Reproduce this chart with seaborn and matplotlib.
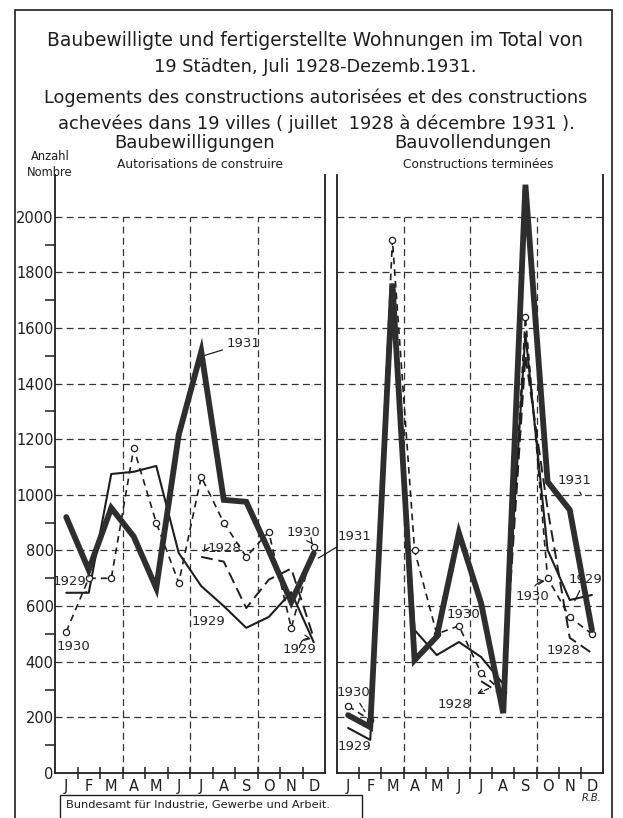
import matplotlib
matplotlib.use("Agg")
import matplotlib.pyplot as plt
import seaborn as sns
import numpy as np
import pandas as pd
from matplotlib.patches import Rectangle

sns.set_style("white")
plt.rcParams['font.family'] = ['DejaVu Sans']

# ---------------- data ----------------
months = ["J", "F", "M", "A", "M", "J", "J", "A", "S", "O", "N", "D"]
month_idx = list(range(12))

# Baubewilligungen / Autorisations de construire
permits_1928 = [np.nan] * 6 + [777, 760, 593, 695, 735, 485]
permits_1929 = [648, 648, 1075, 1083, 1104, 791, 672, 600, 522, 561, 650, 470]
permits_1930 = [508, 700, 700, 1168, 900, 684, 1065, 900, 777, 867, 522, 813]
permits_1931 = [920, 730, 953, 850, 665, 1216, 1515, 982, 975, 800, 615, 790]

# Bauvollendungen / Constructions terminées
compl_1928 = [np.nan] * 6 + [330, 280, 1500, 950, 486, 431]
compl_1929 = [162, 119, 1700, 514, 424, 471, 417, 320, 1580, 802, 622, 640]
compl_1930 = [241, 190, 1917, 800, 500, 529, 360, 290, 1640, 701, 560, 500]
compl_1931 = [208, 165, 1760, 406, 490, 863, 611, 215, 2115, 1047, 946, 514]

ytick_vals = list(range(0, 2001, 200))


def frame(values):
    return pd.DataFrame({"m": month_idx, "v": values}).dropna()


# ---------------- figure ----------------
fig = plt.figure(figsize=(6.23, 8.18), dpi=100)
fig.patch.set_facecolor("white")
axL = fig.add_axes([55 / 623, 1 - 773 / 818, 270 / 623, 598 / 818])
axR = fig.add_axes([337 / 623, 1 - 773 / 818, 266 / 623, 598 / 818])

INK = "#1e1e1e"


def style_axis(ax, show_y):
    ax.patch.set_alpha(0)
    ax.set_xlim(-0.5, 11.5)
    ax.set_ylim(0, 2150)
    ax.spines["top"].set_visible(False)
    for s in ["left", "right", "bottom"]:
        ax.spines[s].set_color(INK)
        ax.spines[s].set_linewidth(1.3)
    # dashed grid
    ax.hlines(ytick_vals[1:], -0.5, 11.5, colors="#333333", linewidth=0.9,
              linestyles=(0, (5.5, 3.5)), zorder=1)
    ax.vlines([2.5, 5.5, 8.5], 0, 2000, colors="#333333", linewidth=0.9,
              linestyles=(0, (5.5, 3.5)), zorder=1)
    # x ticks at month boundaries, labels at month centres
    ax.set_xticks(np.arange(0.5, 11.0, 1.0))
    ax.set_xticklabels([])
    ax.tick_params(axis="x", which="major", direction="inout", length=9,
                   width=1.1, color=INK, bottom=True)
    ax.set_xticks(month_idx, minor=True)
    ax.set_xticklabels(months, minor=True, fontsize=10.5, color=INK)
    ax.tick_params(axis="x", which="minor", length=0, pad=4)
    if show_y:
        ax.set_yticks(ytick_vals)
        ax.set_yticklabels([str(v) for v in ytick_vals], fontsize=10.5, color=INK)
        ax.tick_params(axis="y", which="major", length=0, pad=1, left=True)
        ax.set_yticks(list(range(100, 2000, 200)), minor=True)
        ax.tick_params(axis="y", which="minor", direction="out", length=7,
                       width=1.1, color=INK, left=True)
    else:
        ax.set_yticks([])
    ax.set_xlabel("")
    ax.set_ylabel("")


def draw_series(ax, s1928, s1929, s1930, s1931):
    sns.lineplot(data=frame(s1928), x="m", y="v", ax=ax, color=INK, linewidth=1.4,
                 linestyle=(0, (6, 3)), legend=False, zorder=3)
    sns.lineplot(data=frame(s1929), x="m", y="v", ax=ax, color=INK, linewidth=1.5,
                 legend=False, zorder=3)
    sns.lineplot(data=frame(s1930), x="m", y="v", ax=ax, color=INK, linewidth=1.2,
                 linestyle=(0, (4, 3)), marker="o", markersize=4.5,
                 markerfacecolor="white", markeredgecolor=INK, markeredgewidth=0.9,
                 legend=False, zorder=4)
    sns.lineplot(data=frame(s1931), x="m", y="v", ax=ax, color="#2e2e2e", linewidth=4.2,
                 solid_joinstyle="miter", legend=False, zorder=5)


draw_series(axL, permits_1928, permits_1929, permits_1930, permits_1931)
draw_series(axR, compl_1928, compl_1929, compl_1930, compl_1931)
style_axis(axL, True)
style_axis(axR, False)

AF = 9.5
lead = dict(arrowstyle="-", lw=0.9, color=INK, shrinkA=1, shrinkB=1)
arrow = dict(arrowstyle="->", lw=0.9, color=INK, shrinkA=1, shrinkB=1)

# ---- annotations, left panel ----
axL.annotate("1931", xy=(6.1, permits_1931[6] - 15), xytext=(7.9, 1545),
             ha="center", va="center", fontsize=AF, arrowprops=lead)
axL.annotate("1929", xy=(0.95, permits_1929[0]), xytext=(0.15, 690),
             ha="center", va="center", fontsize=AF, arrowprops=lead)
axL.text(0.3, 455, "1930", ha="center", va="center", fontsize=AF)
axL.annotate("1928", xy=(6.05, permits_1928[6] + 10), xytext=(7.05, 806),
             ha="center", va="center", fontsize=AF,
             arrowprops=dict(arrowstyle="->", lw=0.9, color=INK,
                             connectionstyle="arc3,rad=0.6", shrinkA=1, shrinkB=2))
axL.text(6.3, 543, "1929", ha="center", va="center", fontsize=AF)
axL.annotate("1930", xy=(11.0, permits_1930[11] + 5), xytext=(10.55, 865),
             ha="center", va="center", fontsize=AF, arrowprops=arrow)
axL.annotate("1929", xy=(11.0, permits_1929[11] + 10), xytext=(10.35, 445),
             ha="center", va="center", fontsize=AF,
             arrowprops=dict(arrowstyle="->", lw=0.9, color=INK,
                             connectionstyle="arc3,rad=-0.6", shrinkA=1, shrinkB=2))
axL.annotate("1931", xy=(11.15, permits_1931[11] - 20), xytext=(12.8, 850),
             ha="center", va="center", fontsize=AF, arrowprops=lead,
             annotation_clip=False)

# ---- annotations, right panel ----
axR.annotate("1930", xy=(0.8, compl_1930[0] - 25), xytext=(0.22, 290),
             ha="center", va="center", fontsize=AF,
             arrowprops=dict(arrowstyle="-", lw=0.9, color=INK, linestyle="--",
                             shrinkA=1, shrinkB=1))
axR.text(0.27, 95, "1929", ha="center", va="center", fontsize=AF)
axR.text(5.2, 570, "1930", ha="center", va="center", fontsize=AF)
axR.annotate("1928", xy=(6.5, 310), xytext=(4.8, 245),
             ha="center", va="center", fontsize=AF,
             arrowprops=dict(arrowstyle="<-", lw=0.9, color=INK, linestyle="--",
                             shrinkA=2, shrinkB=1))
axR.annotate("1931", xy=(10.55, 995), xytext=(10.2, 1050),
             ha="center", va="center", fontsize=AF, arrowprops=lead)
axR.annotate("1930", xy=(9.0, compl_1930[9] - 10), xytext=(8.3, 633),
             ha="center", va="center", fontsize=AF,
             arrowprops=dict(arrowstyle="->", lw=0.9, color=INK,
                             connectionstyle="arc3,rad=-0.5", shrinkA=1, shrinkB=2))
axR.annotate("1929", xy=(10.2, 615), xytext=(10.7, 695),
             ha="center", va="center", fontsize=AF, arrowprops=lead)
axR.text(9.7, 442, "1928", ha="center", va="center", fontsize=AF)

# ---- titles and labels ----
def ftext(px, py, s, **kw):
    fig.text(px / 623, 1 - py / 818, s, color=INK, **kw)

ftext(315, 40, "Baubewilligte und fertigerstellte Wohnungen im Total von",
      ha="center", va="center", fontsize=13.4)
ftext(315, 67, "19 Städten, Juli 1928-Dezemb.1931.", ha="center", va="center", fontsize=12.8)
ftext(316, 98, "Logements des constructions autorisées et des constructions",
      ha="center", va="center", fontsize=12.7)
ftext(316, 124, "achevées dans 19 villes ( juillet  1928 à décembre 1931 ).",
      ha="center", va="center", fontsize=12.8)
ftext(195, 143, "Baubewilligungen", ha="center", va="center", fontsize=13)
ftext(200, 165, "Autorisations de construire", ha="center", va="center", fontsize=8.8)
ftext(473, 143, "Bauvollendungen", ha="center", va="center", fontsize=13)
ftext(478, 165, "Constructions terminées", ha="center", va="center", fontsize=8.8)
ftext(50, 157, "Anzahl", ha="center", va="center", fontsize=8.3)
ftext(50, 173, "Nombre", ha="center", va="center", fontsize=8.3)
ftext(592, 798, "R.B.", ha="center", va="center", fontsize=7, style="italic")

# outer frame and source box
fig.add_artist(Rectangle((15 / 623, -0.05), (612 - 15) / 623, 0.988 + 0.05,
                         transform=fig.transFigure, fill=False, lw=1.2, ec=INK))
fig.add_artist(Rectangle((60 / 623, -0.02), (362 - 60) / 623, 0.028 + 0.02,
                         transform=fig.transFigure, fill=False, lw=1.0, ec=INK))
ftext(66, 805, "Bundesamt für Industrie, Gewerbe und Arbeit.", ha="left",
      va="center", fontsize=8.2)

fig.savefig("out.png", dpi=100, facecolor="white")
